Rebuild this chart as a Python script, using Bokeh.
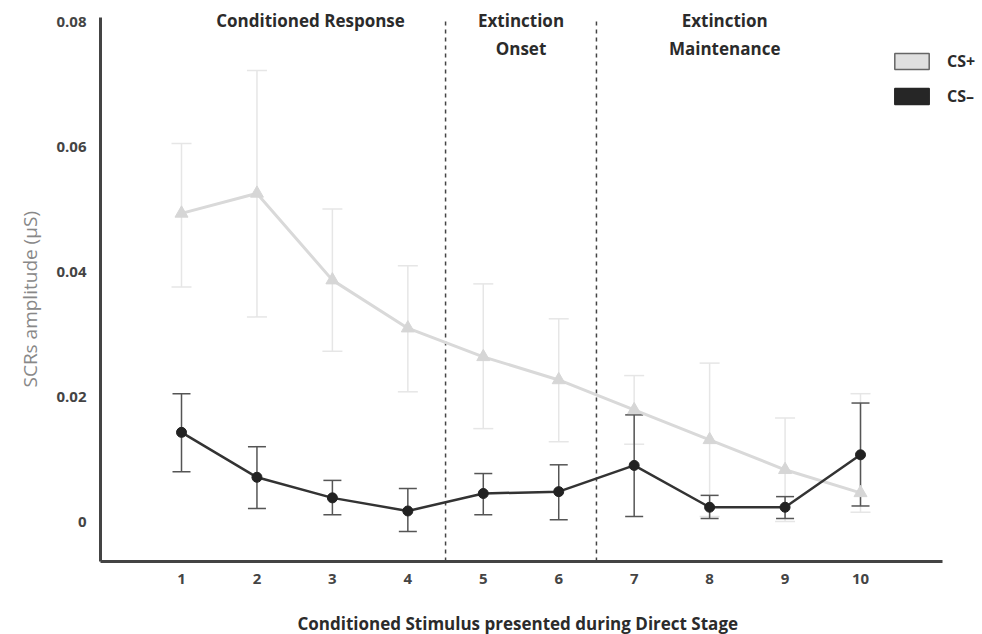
from bokeh.plotting import figure
from bokeh.models import (ColumnDataSource, Whisker, TeeHead, Label, Legend,
                          LegendItem, FixedTicker, Range1d, Title)
from bokeh.embed import file_html
from bokeh.resources import INLINE

# ---- data ----
stimulus = [1, 2, 3, 4, 5, 6, 7, 8, 9, 10]
cs_plus = [0.0494, 0.0526, 0.0387, 0.0310, 0.0264, 0.0227, 0.0179, 0.0131, 0.0083, 0.0046]
cs_plus_upper = [0.0606, 0.0723, 0.0501, 0.0410, 0.0381, 0.0325, 0.0234, 0.0254, 0.0166, 0.0205]
cs_plus_lower = [0.0376, 0.0328, 0.0273, 0.0208, 0.0149, 0.0128, 0.0124, 0.0008, 0.0000, 0.0015]
cs_minus = [0.0143, 0.0071, 0.0038, 0.0017, 0.0045, 0.0048, 0.0090, 0.0023, 0.0023, 0.0107]
cs_minus_upper = [0.0205, 0.0120, 0.0066, 0.0053, 0.0077, 0.0091, 0.0171, 0.0042, 0.0040, 0.0190]
cs_minus_lower = [0.0080, 0.0021, 0.0011, -0.0016, 0.0011, 0.0003, 0.0008, 0.0005, 0.0005, 0.0025]
y_ticks = [0, 0.02, 0.04, 0.06, 0.08]
y_tick_labels = ["0", "0.02", "0.04", "0.06", "0.08"]
phase_boundaries = [4.5, 6.5]
phase_labels = [("Conditioned Response",), ("Extinction", "Onset"), ("Extinction", "Maintenance")]
phase_centers = [2.71, 5.5, 8.2]
series_names = ["CS+", "CS\u2013"]
x_title = "Conditioned Stimulus presented during Direct Stage"
y_title = "SCRs amplitude (\u00b5S)"

# axis extents (data units) where the visible axis lines are drawn
x_axis_start, x_axis_end = -0.0737, 11.087
y_axis_start, y_axis_end = -0.0064, 0.0808

FONT = "Open Sans"

p = figure(width=982, height=634, output_backend="svg", toolbar_location=None,
           x_range=Range1d(-0.1135, 11.617), y_range=Range1d(-0.00688, 0.08352),
           min_border_left=97, min_border_right=0, min_border_top=0,
           min_border_bottom=69)
p.outline_line_color = None
p.grid.visible = False
p.background_fill_color = "white"
p.border_fill_color = "white"

src_p = ColumnDataSource(dict(x=stimulus, y=cs_plus, up=cs_plus_upper, lo=cs_plus_lower))
src_m = ColumnDataSource(dict(x=stimulus, y=cs_minus, up=cs_minus_upper, lo=cs_minus_lower))

# phase boundaries
p.segment(x0=phase_boundaries, x1=phase_boundaries,
          y0=[y_axis_start] * len(phase_boundaries), y1=[y_axis_end] * len(phase_boundaries),
          line_color="#444444", line_width=1.5, line_dash="4 4")

# CS+ error bars
wp = Whisker(source=src_p, base="x", upper="up", lower="lo",
             line_color="#e6e6e6", line_width=1.5,
             upper_head=TeeHead(size=20, line_color="#e6e6e6", line_width=1.5),
             lower_head=TeeHead(size=20, line_color="#e6e6e6", line_width=1.5))
p.add_layout(wp)
p.line("x", "y", source=src_p, line_color="#d9d9d9", line_width=3)
p.scatter("x", "y", source=src_p, marker="triangle", size=13,
          fill_color="#d6d6d6", line_color="#d6d6d6")

# CS- error bars
wm = Whisker(source=src_m, base="x", upper="up", lower="lo",
             line_color="#555555", line_width=1.5,
             upper_head=TeeHead(size=18, line_color="#555555", line_width=1.5),
             lower_head=TeeHead(size=18, line_color="#555555", line_width=1.5))
p.add_layout(wm)
p.line("x", "y", source=src_m, line_color="#333333", line_width=2.5)
p.scatter("x", "y", source=src_m, marker="circle", size=10,
          fill_color="#222222", line_color="#222222")

# visible axis lines
p.segment(x0=[x_axis_start, x_axis_start], x1=[x_axis_start, x_axis_end],
          y0=[y_axis_start, y_axis_start], y1=[y_axis_end, y_axis_start],
          line_color="#444444", line_width=3)

# phase labels
for center, lines in zip(phase_centers, phase_labels):
    for i, t in enumerate(lines):
        p.add_layout(Label(x=center, y=0.0803 - i * 0.0045, text=t,
                           text_align="center", text_baseline="middle",
                           text_font=FONT, text_font_style="bold",
                           text_font_size="17px", text_color="#2b2b2b"))

# legend (swatch renderers are hidden; only their legend boxes are drawn)
r1 = p.quad(left=stimulus, right=stimulus, top=cs_plus, bottom=cs_plus,
            fill_color="#e0e0e0", line_color="#666666", line_width=1.5, visible=False)
r2 = p.quad(left=stimulus, right=stimulus, top=cs_minus, bottom=cs_minus,
            fill_color="#262626", line_color="#262626", line_width=1.5, visible=False)
legend = Legend(items=[LegendItem(label=series_names[0], renderers=[r1]),
                       LegendItem(label=series_names[1], renderers=[r2])],
                location=(793, 457), padding=0, margin=0, spacing=13,
                glyph_width=43, glyph_height=20, label_standoff=14,
                border_line_color=None, background_fill_alpha=0,
                label_text_font=FONT, label_text_font_style="bold",
                label_text_font_size="16px", label_text_color="#2b2b2b")
p.add_layout(legend)

# axes (labels only; lines drawn above)
p.xaxis.ticker = FixedTicker(ticks=stimulus)
p.yaxis.ticker = FixedTicker(ticks=y_ticks)
p.yaxis.major_label_overrides = {t: l for t, l in zip(y_ticks, y_tick_labels)}
for ax in (p.xaxis, p.yaxis):
    ax.axis_line_color = None
    ax.major_tick_line_color = None
    ax.minor_tick_line_color = None
    ax.major_label_text_font = FONT
    ax.major_label_text_font_style = "bold"
    ax.major_label_text_font_size = "15px"
    ax.major_label_text_color = "#444444"
p.xaxis.major_label_standoff = 3
p.yaxis.major_label_standoff = 5
# blank spacer label so the title below sits lower
p.xaxis.axis_label = " "
p.xaxis.axis_label_text_font_size = "1px"
p.xaxis.axis_label_standoff = 19

p.add_layout(Title(text=x_title, align="left", offset=200, standoff=0,
                   vertical_align="bottom",
                   text_font=FONT, text_font_style="bold", text_font_size="17px",
                   text_color="#2b2b2b"), "below")
p.add_layout(Title(text=y_title, align="left", offset=177, standoff=22,
                   text_font=FONT, text_font_style="normal", text_font_size="19px",
                   text_color="#888888"), "left")

open("out.html", "w").write(file_html(p, INLINE))
